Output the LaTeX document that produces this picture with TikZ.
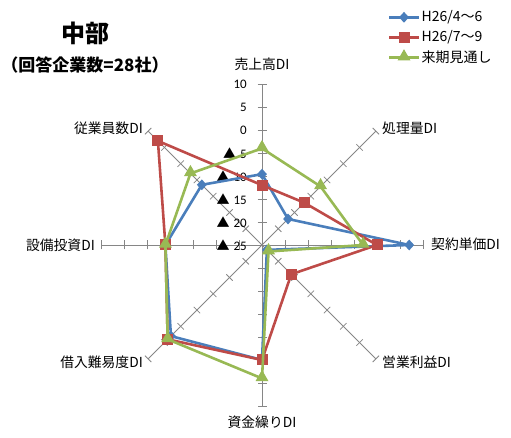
\documentclass[tikz,border=0pt]{standalone}
\usepackage{fontspec}
\setmainfont{Carlito}
\newfontfamily\cjk{Noto Sans CJK JP}
\usetikzlibrary{shapes.geometric}
\definecolor{sblue}{HTML}{4A7EBB}
\definecolor{sred}{HTML}{BE4B48}
\definecolor{sgreen}{HTML}{98B954}
\definecolor{axgray}{HTML}{868686}
\tikzset{
  axisline/.style={draw=axgray, line width=0.8pt},
  serline/.style={line width=2.6pt, line join=round},
  bmark/.style={diamond, fill=sblue, inner sep=0pt, minimum width=10pt, minimum height=11pt},
  rmark/.style={rectangle, fill=sred, inner sep=0pt, minimum size=11pt},
  gmark/.style={isosceles triangle, shape border rotate=90, isosceles triangle apex angle=60, fill=sgreen, inner sep=0pt, minimum height=11pt, minimum width=13pt},
  axlabel/.style={font=\cjk\fontsize{13.8}{15}\selectfont, inner sep=0pt},
  ticklabel/.style={font=\fontsize{13}{15}\selectfont, inner sep=0pt, anchor=east},
  legtext/.style={font=\cjk\fontsize{14}{16}\selectfont, inner sep=0pt, anchor=west}
}
\begin{document}
\begin{tikzpicture}[x=1pt,y=1pt]
\useasboundingbox (-262,-193) rectangle (249,245);
\def\R{161}
% axes
\foreach \k in {0,...,7}{
  \coordinate (ax\k) at ({90-45*\k}:\R);
  \draw[axisline] (0,0) -- (ax\k);
  \foreach \t in {1,...,7}{
    \draw[axisline] ({90-45*\k}:{\t*\R/7}) ++({180-45*\k}:4.5) -- ++({-45*\k}:9);
  }
}
% tick labels
\foreach \t/\lab in {7/10,6/5,5/0,4/{{\cjk ▲}\hspace{4pt}5},3/{{\cjk ▲}\hspace{4pt}10},2/{{\cjk ▲}\hspace{4pt}15},1/{{\cjk ▲}\hspace{4pt}20},0/{{\cjk ▲}\hspace{4pt}25}}{
  \node[ticklabel] (tl\t) at (-15,{\t*\R/7}) {\lab};
}
% axis labels
\node[axlabel] (l0) at (0,181) {売上高DI};
\node[axlabel, anchor=west] (l1) at (120,117) {処理量DI};
\node[axlabel, anchor=west] (l2) at (169,1) {契約単価DI};
\node[axlabel, anchor=west] (l3) at (120,-117) {営業利益DI};
\node[axlabel] (l4) at (0,-177) {資金繰りDI};
\node[axlabel, anchor=east] (l5) at (-119,-117) {借入難易度DI};
\node[axlabel, anchor=east] (l6) at (-167,0) {設備投資DI};
\node[axlabel, anchor=east] (l7) at (-119,117) {従業員数DI};
% series data
\foreach \k/\v in {0/-9.6,1/-17,2/7,3/-23.5,4/0,5/3,6/-4,7/-6.5}
  \coordinate (b\k) at ({90-45*\k}:{(\v+25)*\R/35});
\foreach \k/\v in {0/-12,1/-12,2/0,3/-16,4/0,5/4,6/-4,7/7}
  \coordinate (r\k) at ({90-45*\k}:{(\v+25)*\R/35});
\foreach \k/\v in {0/-4,1/-7,2/-3,3/-23,4/4,5/4,6/-4,7/-3}
  \coordinate (g\k) at ({90-45*\k}:{(\v+25)*\R/35});
\draw[serline, sblue] (b0)--(b1)--(b2)--(b3)--(b4)--(b5)--(b6)--(b7)--cycle;
\foreach \k in {0,...,7} \node[bmark] (mb\k) at (b\k) {};
\draw[serline, sred] (r0)--(r1)--(r2)--(r3)--(r4)--(r5)--(r6)--(r7)--cycle;
\foreach \k in {0,...,7} \node[rmark] (mr\k) at (r\k) {};
\draw[serline, sgreen] (g0)--(g1)--(g2)--(g3)--(g4)--(g5)--(g6)--(g7)--cycle;
\foreach \k in {0,...,7} \node[gmark] (mg\k) at ([yshift=1pt]g\k) {};
% title
\node[font=\cjk\bfseries\fontsize{24}{26}\selectfont, inner sep=0pt] (title) at (-176,212) {中部};
\node[font=\cjk\bfseries\fontsize{17}{19}\selectfont, inner sep=0pt] (sub) at (-177,180) {（回答企業数=28社）};
% legend
\coordinate (lb1) at (127,227.7); \coordinate (lb2) at (157,227.7);
\coordinate (lr1) at (127,207.3); \coordinate (lr2) at (157,207.3);
\coordinate (lg1) at (127,187.3); \coordinate (lg2) at (157,187.3);
\draw[serline, sblue] (lb1) -- (lb2);
\node[bmark] (lbm) at (142,227.7) {};
\node[legtext] (lbt) at (159.5,227.7) {H26/4～6};
\draw[serline, sred] (lr1) -- (lr2);
\node[rmark] (lrm) at (142,207.3) {};
\node[legtext] (lrt) at (159.5,207.3) {H26/7～9};
\draw[serline, sgreen] (lg1) -- (lg2);
\node[gmark] (lgm) at (142,188.3) {};
\node[legtext] (lgt) at (159.5,187.3) {来期見通し};
\end{tikzpicture}
\end{document}
